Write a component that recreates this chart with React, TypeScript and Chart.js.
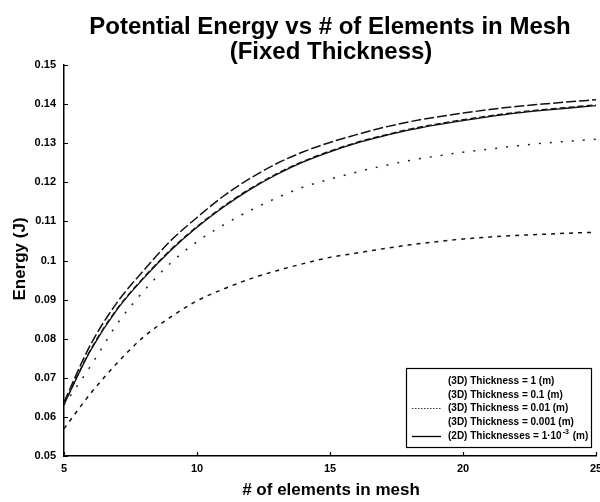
import { useEffect, useRef } from "react";
import { Chart, registerables } from "chart.js";

Chart.register(...registerables);

// ---- data ----
const elements = [5, 6, 7, 8, 9, 10, 11, 12, 13, 14, 15, 16, 17, 18, 19, 20, 21, 22, 23, 24, 25];

const thickness1 = [0.057, 0.066, 0.0738, 0.0805, 0.0855, 0.0897, 0.0927, 0.0953, 0.0974, 0.0992, 0.1008, 0.1019, 0.103, 0.104, 0.1048, 0.1055, 0.106, 0.1064, 0.1067, 0.107, 0.1072];
const thickness01 = [0.0638, 0.0785, 0.0893, 0.0975, 0.105, 0.111, 0.1165, 0.121, 0.1248, 0.1278, 0.1302, 0.1322, 0.134, 0.1355, 0.1367, 0.1377, 0.1386, 0.1394, 0.14, 0.1406, 0.1411];
const thickness001 = [0.063, 0.073, 0.0838, 0.0922, 0.0993, 0.1048, 0.1091, 0.1128, 0.116, 0.1188, 0.1208, 0.1226, 0.1242, 0.1256, 0.1267, 0.1277, 0.1285, 0.1293, 0.13, 0.1305, 0.131];
const thickness0001 = [0.0633, 0.0772, 0.0877, 0.0957, 0.1027, 0.1087, 0.1139, 0.1184, 0.1222, 0.1254, 0.128, 0.1302, 0.132, 0.1336, 0.1349, 0.136, 0.137, 0.1379, 0.1386, 0.1392, 0.1398];
const twoD = [0.0632, 0.077, 0.0875, 0.0955, 0.1025, 0.1085, 0.1137, 0.1182, 0.122, 0.1252, 0.1278, 0.13, 0.1318, 0.1334, 0.1347, 0.1358, 0.1368, 0.1377, 0.1384, 0.139, 0.1396];

const xTickValues = [5, 10, 15, 20, 25];
const yMin = 0.05;
const yMax = 0.15;
const yStep = 0.01;

const titleLines = ["Potential Energy vs # of Elements in Mesh", "(Fixed Thickness)"];
const xTitle = "# of elements in mesh";
const yTitle = "Energy (J)";
const legendLabels = [
  "(3D) Thickness = 1 (m)",
  "(3D) Thickness = 0.1 (m)",
  "(3D) Thickness = 0.01 (m)",
  "(3D) Thickness = 0.001 (m)",
  "(2D) Thicknesses = 1·10",
];

const FONT = '"Liberation Sans", Arial, Helvetica, sans-serif';

const toPoints = (ys: number[]) => elements.map((x, i) => ({ x, y: ys[i] }));

const decorPlugin = {
  id: "decor",
  afterDraw(chart: any) {
    const { ctx, chartArea } = chart;
    const { left, bottom } = chartArea;
    const xs = chart.scales.x;
    const ys = chart.scales.y;
    ctx.save();
    ctx.fillStyle = "#000";
    ctx.strokeStyle = "#000";

    // title
    ctx.textAlign = "center";
    ctx.textBaseline = "alphabetic";
    ctx.font = `bold 24px ${FONT}`;
    ctx.fillText(titleLines[0], 330, 34);
    ctx.fillText(titleLines[1], 331, 59);

    // x axis title
    ctx.font = `bold 17px ${FONT}`;
    ctx.fillText(xTitle, 331, 495);

    // y axis title
    ctx.save();
    ctx.translate(25, 259);
    ctx.rotate(-Math.PI / 2);
    ctx.font = `bold 17px ${FONT}`;
    ctx.fillText(yTitle, 0, 0);
    ctx.restore();

    // inward tick marks
    ctx.lineWidth = 1.2;
    ctx.beginPath();
    for (let v = yMin; v <= yMax + 1e-9; v += yStep) {
      const py = Math.round(ys.getPixelForValue(v)) + 0.5;
      ctx.moveTo(left, py);
      ctx.lineTo(left + 4, py);
    }
    xTickValues.forEach((v) => {
      const px = Math.round(xs.getPixelForValue(v)) + 0.5;
      ctx.moveTo(px, bottom);
      ctx.lineTo(px, bottom - 4);
    });
    ctx.stroke();

    // legend box
    const bx = 406, by = 368, bw = 185, bh = 79;
    ctx.fillStyle = "#fff";
    ctx.fillRect(bx, by, bw, bh);
    ctx.lineWidth = 1.2;
    ctx.strokeRect(bx + 0.5, by + 0.5, bw, bh);
    ctx.fillStyle = "#000";
    ctx.font = `bold 10px ${FONT}`;
    ctx.textAlign = "left";
    ctx.textBaseline = "middle";
    const rowY = [381, 395, 408, 422, 436];
    const textX = 448;
    legendLabels.forEach((lab, i) => {
      ctx.fillText(lab, textX, rowY[i]);
    });
    // superscript for the 2D label
    const w2 = ctx.measureText(legendLabels[4]).width;
    ctx.font = `bold 7px ${FONT}`;
    ctx.fillText("-3", textX + w2 + 1, rowY[4] - 4);
    const ws = ctx.measureText("-3").width;
    ctx.font = `bold 10px ${FONT}`;
    ctx.fillText(" (m)", textX + w2 + ws + 2, rowY[4]);

    // legend samples (only the visible ones)
    ctx.lineWidth = 1;
    ctx.setLineDash([1.5, 1.5]);
    ctx.strokeStyle = "#333";
    ctx.beginPath();
    ctx.moveTo(412, rowY[2] + 0.5);
    ctx.lineTo(441, rowY[2] + 0.5);
    ctx.stroke();
    ctx.setLineDash([]);
    ctx.strokeStyle = "#000";
    ctx.lineWidth = 1.3;
    ctx.beginPath();
    ctx.moveTo(412, rowY[4] + 0.5);
    ctx.lineTo(441, rowY[4] + 0.5);
    ctx.stroke();

    ctx.restore();
  },
};

export default function App() {
  const ref = useRef<HTMLCanvasElement | null>(null);

  useEffect(() => {
    document.body.style.margin = "0";
    const canvas = ref.current;
    if (!canvas) return;
    const line = (label: string, ys: number[], dash: number[], width: number, color: string) => ({
      label,
      data: toPoints(ys),
      borderColor: color,
      backgroundColor: color,
      borderWidth: width,
      borderDash: dash,
      pointRadius: 0,
      fill: false,
      cubicInterpolationMode: "monotone" as const,
    });
    const chart = new Chart(canvas, {
      type: "line",
      data: {
        datasets: [
          line(legendLabels[0], thickness1, [4, 5], 1.5, "#111"),
          line(legendLabels[1], thickness01, [10, 3], 1.5, "#111"),
          line(legendLabels[2], thickness001, [2, 9], 1.5, "#222"),
          line(legendLabels[3], thickness0001, [6, 3], 1.3, "#111"),
          line(legendLabels[4], twoD, [], 1.3, "#111"),
        ],
      },
      options: {
        responsive: false,
        animation: false,
        layout: { padding: { top: 65, right: 4, left: 0, bottom: 0 } },
        plugins: {
          legend: { display: false },
          title: { display: false },
          tooltip: { enabled: false },
        },
        scales: {
          x: {
            type: "linear",
            min: 5,
            max: 25,
            grid: { display: false, drawTicks: false },
            border: { display: true, color: "#000", width: 1.5 },
            afterBuildTicks: (scale: any) => {
              scale.ticks = xTickValues.map((v) => ({ value: v }));
            },
            afterFit: (scale: any) => {
              scale.height = 46;
              scale.paddingLeft = 0;
              scale.paddingRight = 0;
            },
            ticks: {
              color: "#000",
              padding: 6,
              maxRotation: 0,
              autoSkip: false,
              font: { family: FONT, size: 11, weight: "bold" },
            },
          },
          y: {
            type: "linear",
            min: yMin,
            max: yMax,
            grid: { display: false, drawTicks: false },
            border: { display: true, color: "#000", width: 1.5 },
            afterFit: (scale: any) => {
              scale.width = 64;
              scale.paddingTop = 0;
              scale.paddingBottom = 0;
            },
            ticks: {
              stepSize: yStep,
              color: "#000",
              padding: 8,
              font: { family: FONT, size: 11, weight: "bold" },
              callback: (v: any) => String(Number(Number(v).toFixed(2))),
            },
          },
        },
      },
      plugins: [decorPlugin],
    });
    return () => chart.destroy();
  }, []);

  return <canvas ref={ref} width={600} height={502} style={{ display: "block" }} />;
}
